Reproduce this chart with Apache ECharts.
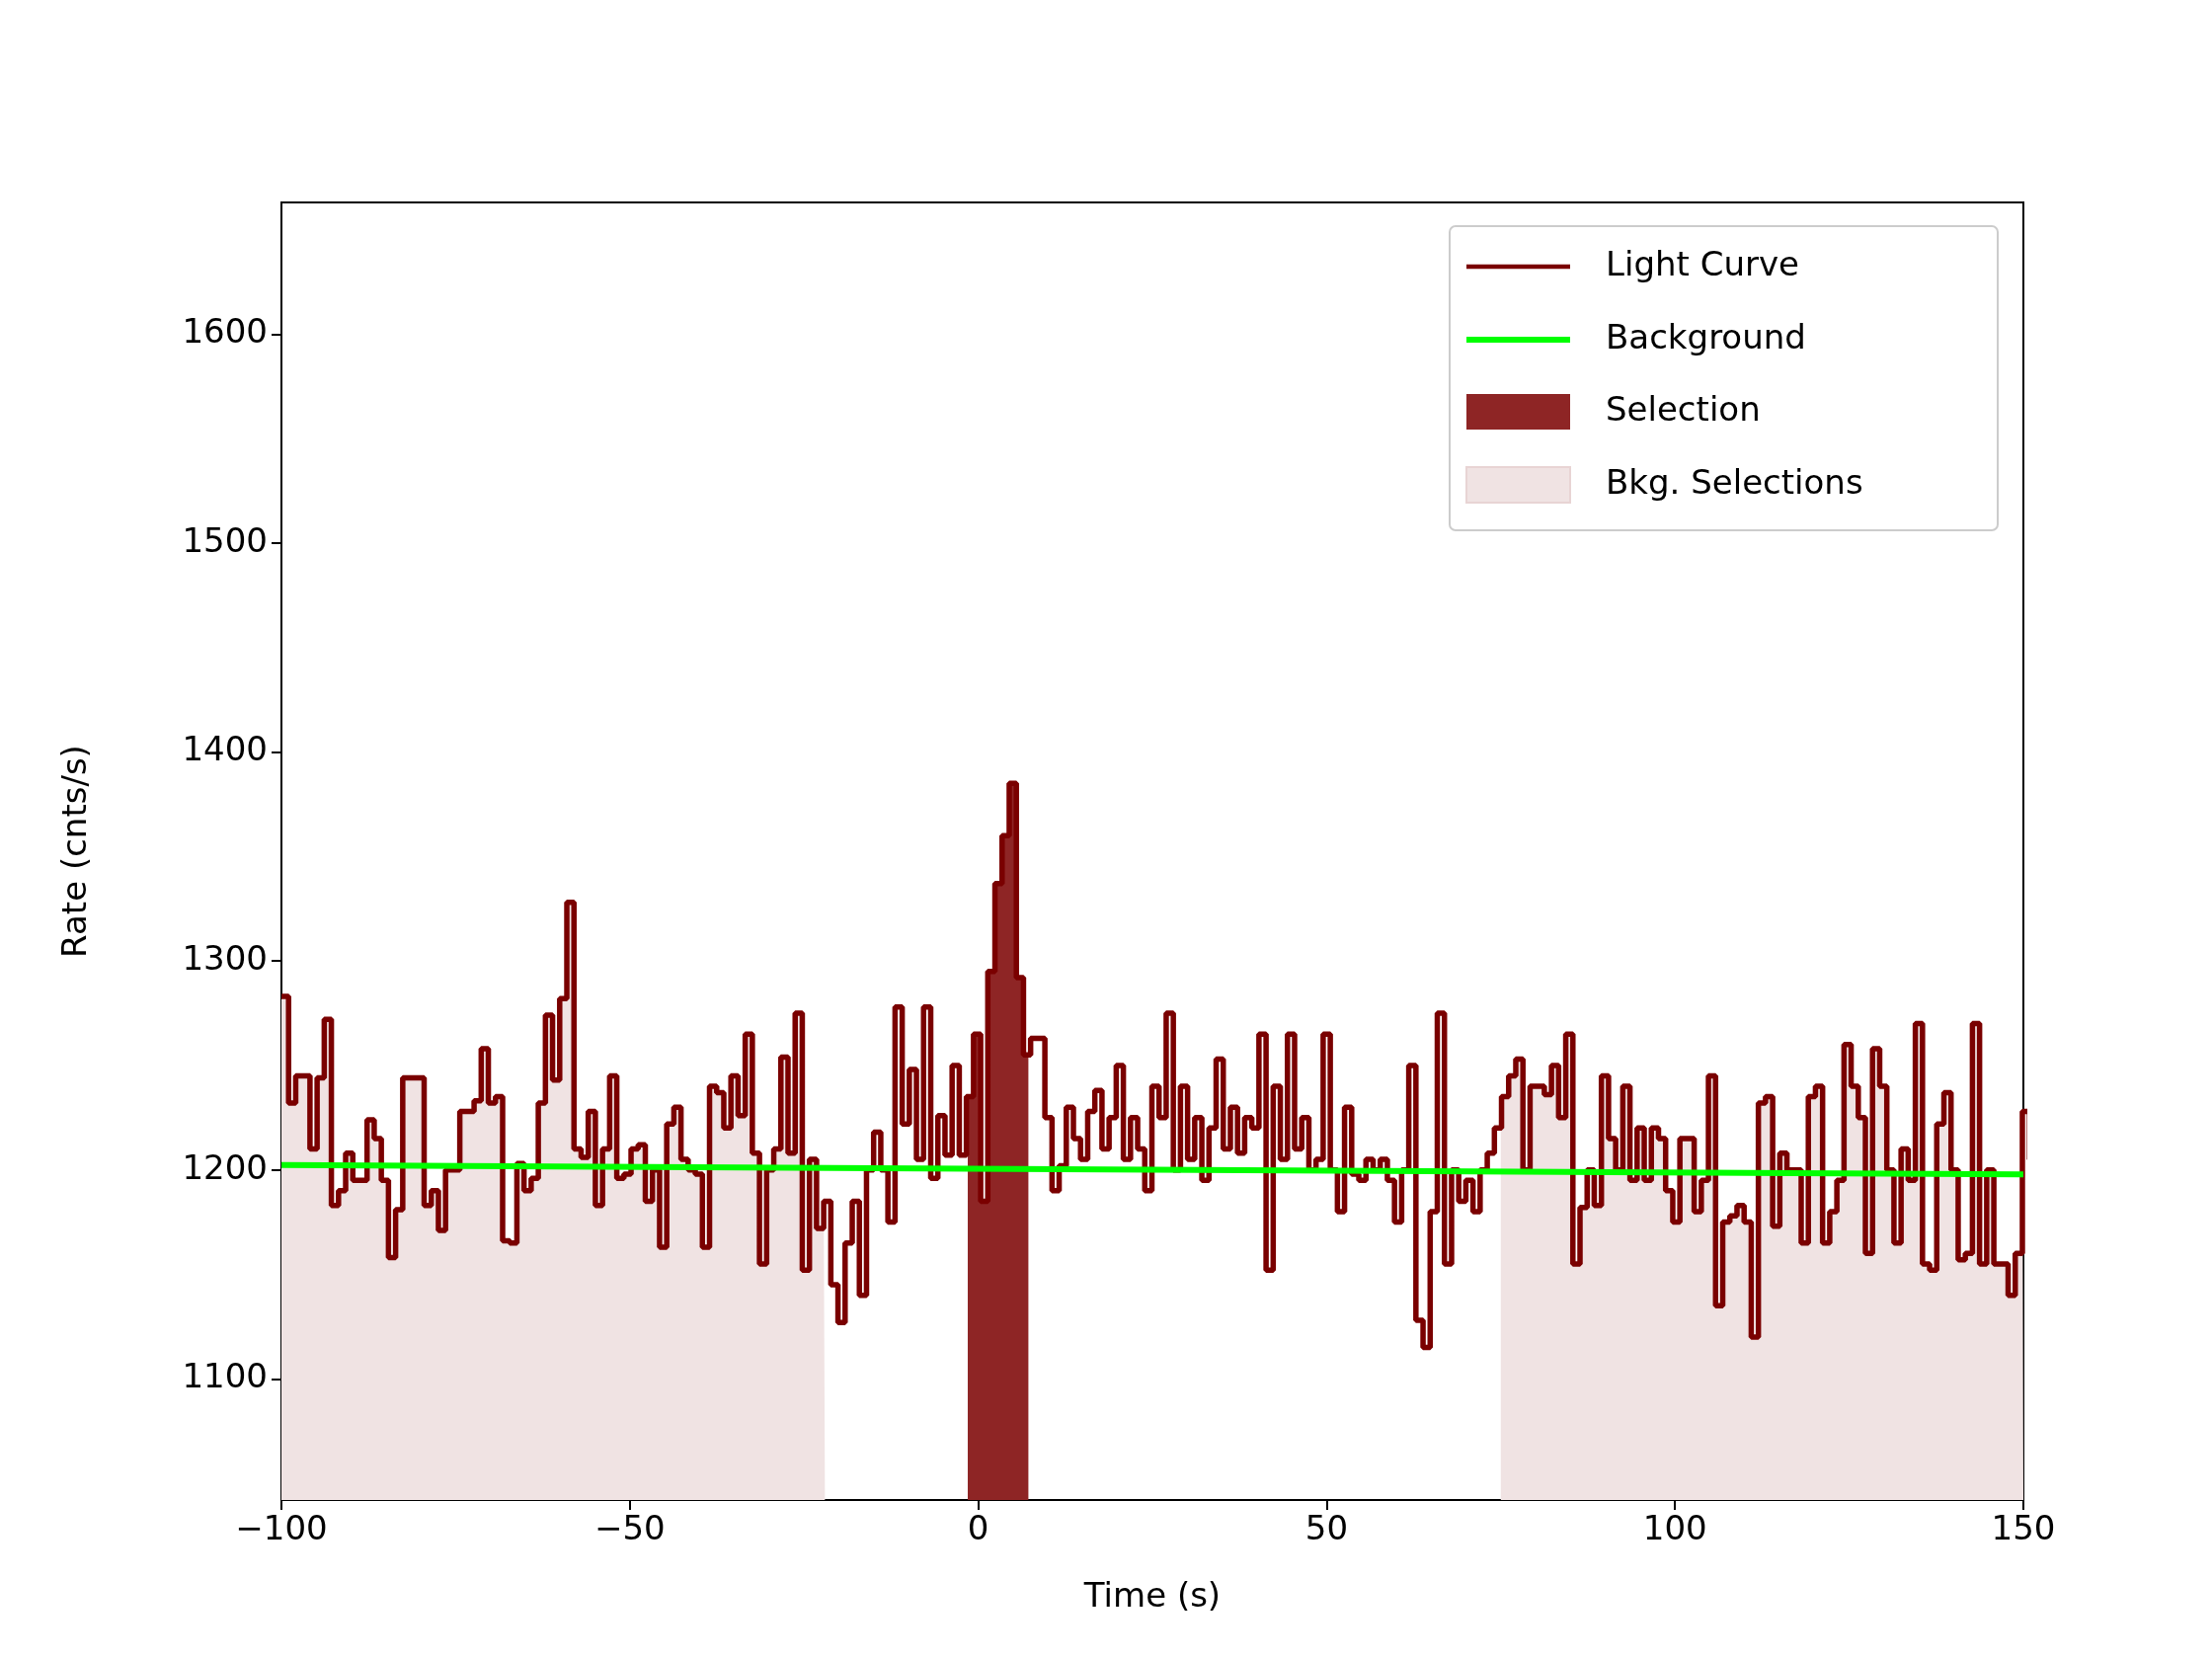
<!DOCTYPE html>
<html>
<head>
<meta charset="utf-8">
<script src="https://cdn.jsdelivr.net/npm/echarts@6/dist/echarts.min.js"></script>
<style>html,body{margin:0;padding:0;background:#fff}#main{width:2240px;height:1680px}</style>
</head>
<body>
<div id="main"></div>
<script>
// light curve, 1.024 s bins starting at -100 s
var binStart = -100;
var binWidth = 1.024;
var rates = [
	1283,1232,1245,1245,1210,1244,1272,1183,1190,1208,
	1195,1195,1224,1215,1195,1158,1181,1244,1244,1244,
	1183,1190,1171,1200,1200,1228,1228,1233,1258,1232,
	1235,1166,1165,1203,1190,1196,1232,1274,1243,1282,
	1328,1210,1206,1228,1183,1210,1245,1196,1198,1210,
	1212,1185,1200,1163,1222,1230,1205,1200,1198,1163,
	1240,1237,1220,1245,1226,1265,1208,1155,1200,1210,
	1254,1208,1275,1152,1205,1172,1185,1145,1127,1165,
	1185,1140,1200,1218,1200,1175,1278,1222,1248,1205,
	1278,1196,1226,1207,1250,1207,1235,1265,1185,1295,
	1337,1360,1385,1292,1255,1263,1263,1225,1190,1202,
	1230,1215,1205,1228,1238,1210,1225,1250,1205,1225,
	1210,1190,1240,1225,1275,1200,1240,1205,1225,1195,
	1220,1253,1210,1230,1208,1225,1220,1265,1152,1240,
	1205,1265,1210,1225,1200,1205,1265,1200,1180,1230,
	1198,1195,1205,1200,1205,1195,1175,1200,1250,1128,
	1115,1180,1275,1155,1200,1185,1195,1180,1200,1208,
	1220,1235,1245,1253,1200,1240,1240,1236,1250,1225,
	1265,1155,1182,1200,1183,1245,1215,1200,1240,1195,
	1220,1195,1220,1215,1190,1175,1215,1215,1180,1195,
	1245,1135,1175,1178,1183,1175,1120,1232,1235,1173,
	1208,1200,1200,1165,1235,1240,1165,1180,1195,1260,
	1240,1225,1160,1258,1240,1200,1165,1210,1195,1270,
	1155,1152,1222,1237,1200,1157,1160,1270,1155,1200,
	1155,1155,1140,1160,1228,1205
];
var bkgLine = [[-100, 1202.3], [150, 1197.8]];
var selection = [-1.5, 7.2];
var bkgSelections = [[-100, -22], [75, 150]];
var xTicks = [-100, -50, 0, 50, 100, 150];
var yTicks = [1100, 1200, 1300, 1400, 1500, 1600];

var curve = [];
for (var i = 0; i < rates.length; i++) {
	curve.push([binStart + i * binWidth, rates[i]]);
}
curve.push([binStart + rates.length * binWidth, rates[rates.length - 1]]);

function rateAt(t) {
	var k = Math.floor((t - binStart) / binWidth);
	if (k < 0) k = 0;
	if (k >= rates.length) k = rates.length - 1;
	return rates[k];
}
// piece of the step curve between a and b
function clipCurve(a, b) {
	var out = [[a, rateAt(a)]];
	for (var i = 0; i < curve.length; i++) {
		if (curve[i][0] > a && curve[i][0] < b) out.push(curve[i]);
	}
	out.push([b, rateAt(b - 1e-6)]);
	return out;
}

var series = [];
bkgSelections.forEach(function(r) {
	series.push({
		type: 'line', step: 'end', symbol: 'none', silent: true,
		data: clipCurve(r[0], r[1]),
		lineStyle: { width: 0 },
		areaStyle: { color: '#f0e3e3', opacity: 1, origin: 'start' },
		z: 1
	});
});
series.push({
	type: 'line', step: 'end', symbol: 'none',
	data: clipCurve(selection[0], selection[1]),
	lineStyle: { width: 0 },
	areaStyle: { color: '#8e2525', opacity: 1, origin: 'start' },
	z: 2
});
series.push({
	name: 'Light Curve', type: 'line', step: 'end', symbol: 'none',
	data: curve,
	lineStyle: { color: '#7a0000', width: 5.5 },
	z: 3
});
series.push({
	name: 'Background', type: 'line', symbol: 'none',
	data: bkgLine,
	lineStyle: { color: '#00ff00', width: 6 },
	z: 4
});

var font = 'DejaVu Sans';
var lx = 1485, ly = [270, 344, 417, 491];
var graphic = [
	{ type: 'rect', shape: { x: 1468, y: 229, width: 555, height: 308, r: 6 },
		style: { fill: 'rgba(255,255,255,0.8)', stroke: '#cccccc', lineWidth: 2 }, z: 10 },
	{ type: 'line', shape: { x1: lx, y1: ly[0], x2: lx + 105, y2: ly[0] }, style: { stroke: '#7a0000', lineWidth: 4.5 }, z: 11 },
	{ type: 'line', shape: { x1: lx, y1: ly[1], x2: lx + 105, y2: ly[1] }, style: { stroke: '#00ff00', lineWidth: 6 }, z: 11 },
	{ type: 'rect', shape: { x: lx, y: ly[2] - 18, width: 105, height: 36 }, style: { fill: '#8e2525' }, z: 11 },
	{ type: 'rect', shape: { x: lx, y: ly[3] - 18, width: 105, height: 36 }, style: { fill: '#f0e3e3', stroke: '#e8d4d4', lineWidth: 2 }, z: 11 }
];
['Light Curve', 'Background', 'Selection', 'Bkg. Selections'].forEach(function(s, i) {
	graphic.push({ type: 'text', x: 1626, y: ly[i], z: 11,
		style: { text: s, font: '34px "' + font + '"', fill: '#000', verticalAlign: 'middle' } });
});

var myChart = echarts.init(document.getElementById('main'));
var option = {
	animation: false,
	textStyle: { fontFamily: font },
	grid: { left: 285, right: 191, top: 205, bottom: 161, show: true, borderColor: '#000', borderWidth: 2 },
	xAxis: {
		type: 'value', min: -100, max: 150,
		name: 'Time (s)', nameLocation: 'middle', nameGap: 82,
		nameTextStyle: { fontSize: 34, color: '#000' },
		splitLine: { show: false },
		axisLine: { onZero: false, lineStyle: { color: '#000', width: 2 } },
		axisTick: { length: 10, lineStyle: { color: '#000', width: 2 }, customValues: xTicks },
		axisLabel: { fontSize: 34, color: '#000', margin: 14, customValues: xTicks,
			formatter: function(v) { return v < 0 ? '\u2212' + (-v) : '' + v; } }
	},
	yAxis: {
		type: 'value', min: 1042, max: 1663,
		name: 'Rate (cnts/s)', nameLocation: 'middle', nameGap: 190,
		nameTextStyle: { fontSize: 34, color: '#000' },
		splitLine: { show: false },
		axisLine: { show: true, onZero: false, lineStyle: { color: '#000', width: 2 } },
		axisTick: { show: true, length: 10, lineStyle: { color: '#000', width: 2 }, customValues: yTicks },
		axisLabel: { fontSize: 34, color: '#000', margin: 14, customValues: yTicks,
			formatter: function(v) { return '' + v; } }
	},
	series: series,
	graphic: graphic
};
myChart.setOption(option);
</script>
</body>
</html>
